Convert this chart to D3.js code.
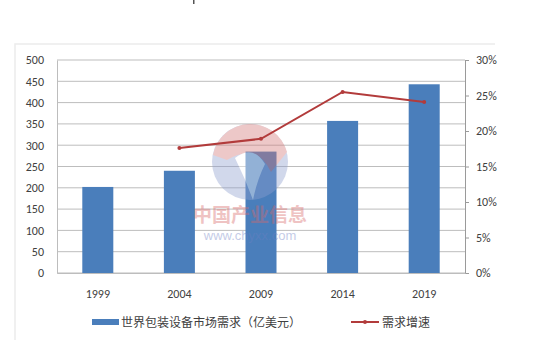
<!DOCTYPE html>
<html>
<head>
<meta charset="utf-8">
<title>packaging</title>
<script src="https://cdn.jsdelivr.net/npm/d3@7"></script>
<style>
	body{ margin:0; background:#fff; }
	text{ font-family: "Noto Sans CJK SC", "DejaVu Sans", sans-serif; fill:#404040; }
	.tick text{ font-family: Calibri, "Liberation Sans", "DejaVu Sans", sans-serif; font-size:12px; }
</style>
</head>
<body>
<svg width="533" height="344"></svg>
<script>
	// 数据
	var years = ["1999", "2004", "2009", "2014", "2019"];
	var demand = [202, 240, 285, 357, 443];          // 亿美元
	var growth = [null, 17.6, 18.9, 25.5, 24.1];     // %
	var leftTicks = [0, 50, 100, 150, 200, 250, 300, 350, 400, 450, 500];
	var rightTicks = [0, 5, 10, 15, 20, 25, 30];

	var svg = d3.select("svg"),
	    margin = {top: 60, right: 68, bottom: 71, left: 57},
	    width = +svg.attr("width") - margin.left - margin.right,
	    height = +svg.attr("height") - margin.top - margin.bottom;

	// 外框
	svg.append("path").attr("fill", "none").attr("stroke", "#ececec").attr("stroke-width", 1.5)
		.attr("d", "M15,340 L15,44 L495,44");

	var g = svg.append("g").attr("transform", `translate(${margin.left},${margin.top})`);

	var x = d3.scaleBand().domain(years).range([0, width]).paddingInner(0.62).paddingOuter(0.31),
	    y = d3.scaleLinear().domain([0, 500]).range([height, 0]),
	    y2 = d3.scaleLinear().domain([0, 30]).range([height, 0]);

	// 网格线
	g.append("g").selectAll("line").data(leftTicks).enter().append("line")
		.attr("x1", 0).attr("x2", width)
		.attr("y1", d => y(d)).attr("y2", d => y(d))
		.attr("stroke", "#bdbdbd").attr("stroke-width", 1);

	// 左轴
	var ax = g.append("g").call(d3.axisLeft(y).tickValues(leftTicks).tickSize(0).tickPadding(13));
	ax.select(".domain").attr("stroke", "#bdbdbd");

	// 右轴
	var ar = g.append("g").attr("transform", `translate(${width},0)`)
		.call(d3.axisRight(y2).tickValues(rightTicks).tickFormat(d => d + "%").tickSize(4).tickPadding(7));
	ar.select(".domain").attr("stroke", "#9a9a9a");
	ar.selectAll("line").attr("stroke", "#9a9a9a");

	// 底轴
	var ab = g.append("g").attr("transform", `translate(0,${height})`)
		.call(d3.axisBottom(x).tickSize(0).tickPadding(16));
	ab.select(".domain").attr("stroke", "#bdbdbd");

	// 柱
	g.append("g").selectAll("rect").data(demand).enter().append("rect")
		.attr("x", (d, i) => x(years[i]))
		.attr("y", d => y(d))
		.attr("width", x.bandwidth())
		.attr("height", d => height - y(d))
		.attr("fill", "#4a7ebb");

	// 水印
	var wm = g.append("g").attr("opacity", 0.4);
	wm.append("circle").attr("cx", 193).attr("cy", 102).attr("r", 38).attr("fill", "#8f9fcf");
	wm.append("path").attr("d", "M156,95 A38,38 0 0,1 230,92 L214,112 Q200,82 170,100 Z").attr("fill", "#d47878");
	wm.append("path").attr("d", "M178,98 Q196,84 208,104 Q200,120 196,140 Q188,118 178,98 Z").attr("fill", "#fff");
	wm.append("text").attr("x", 193).attr("y", 162).attr("text-anchor", "middle")
		.style("font-size", "19px").style("font-weight", "bold").style("fill", "#d96a6a").text("中国产业信息");
	wm.append("text").attr("x", 193).attr("y", 180).attr("text-anchor", "middle")
		.style("font-size", "13px").style("font-family", "Liberation Sans, sans-serif").style("fill", "#6d80c4").text("www.chyxx.com");

	// 折线
	var pts = growth.map((v, i) => ({k: years[i], v: v})).filter(d => d.v != null);
	var line = d3.line().x(d => x(d.k) + x.bandwidth() / 2).y(d => y2(d.v));
	g.append("path").datum(pts).attr("d", line)
		.attr("fill", "none").attr("stroke", "#b23b3b").attr("stroke-width", 2);
	g.append("g").selectAll("circle").data(pts).enter().append("circle")
		.attr("cx", d => x(d.k) + x.bandwidth() / 2).attr("cy", d => y2(d.v))
		.attr("r", 2).attr("fill", "#b23b3b");

	// 图例
	var lg = svg.append("g").attr("transform", "translate(0,322)");
	lg.append("rect").attr("x", 92).attr("y", -3).attr("width", 27).attr("height", 6).attr("fill", "#4a7ebb");
	lg.append("text").attr("x", 121).attr("y", 5).style("font-size", "12px").text("世界包装设备市场需求（亿美元）");
	lg.append("line").attr("x1", 351).attr("x2", 379).attr("y1", 0).attr("y2", 0)
		.attr("stroke", "#b23b3b").attr("stroke-width", 2);
	lg.append("circle").attr("cx", 365).attr("cy", 0).attr("r", 2).attr("fill", "#b23b3b");
	lg.append("text").attr("x", 382).attr("y", 5).style("font-size", "12px").text("需求增速");

	// 顶部小点
	svg.append("rect").attr("x", 193).attr("y", 0).attr("width", 1.5).attr("height", 4).attr("fill", "#555");
</script>
</body>
</html>
